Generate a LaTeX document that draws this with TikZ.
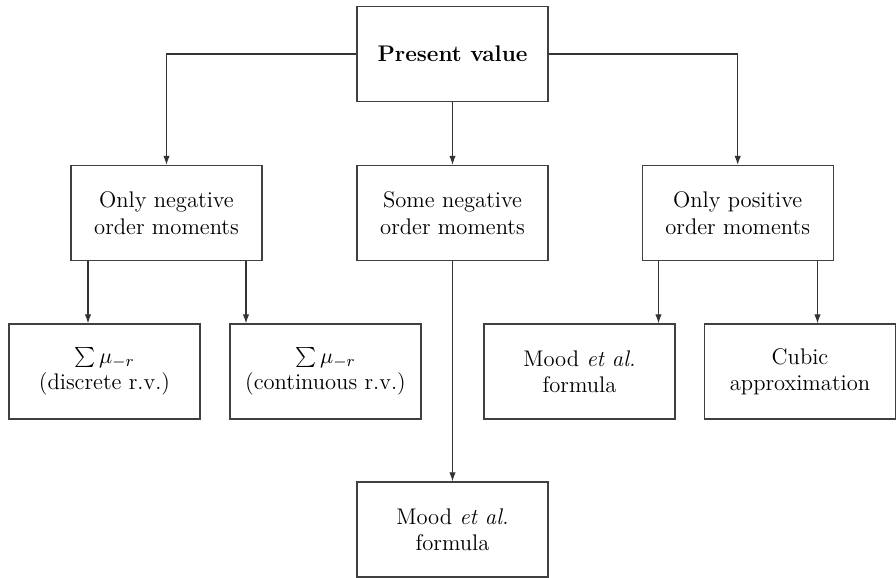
\documentclass[tikz,border=0pt]{standalone}
\usepackage{fontspec}
\usetikzlibrary{arrows.meta}
\begin{document}
\begin{tikzpicture}[x=0.5pt,y=-0.5pt,
  box/.style={draw=black!75,line width=0.65pt,rectangle,minimum width=95.5pt,minimum height=47.5pt,inner sep=0pt,align=center,font=\fontsize{11.3}{13.2}\selectfont},
  arr/.style={draw=black!80,line width=0.55pt,-{Latex[length=4.5pt,width=3.2pt]}}]
\useasboundingbox (0,0) rectangle (896,578);
\node[box] (pv) at (452.5,54) {\textbf{Present value}};
\node[box] (on) at (166.5,213) {Only negative\\order moments};
\node[box] (sn) at (452.5,213) {Some negative\\order moments};
\node[box] (op) at (737.7,213) {Only positive\\order moments};
\node[box] (sd) at (104.5,371.5) {$\sum\mu_{-r}$\\(discrete r.v.)};
\node[box] (sc) at (325.5,371.5) {$\sum\mu_{-r}$\\(continuous r.v.)};
\node[box] (mp) at (579.5,371.5) {Mood \textit{et al.}\\formula};
\node[box] (cu) at (800,371.5) {Cubic\\approximation};
\node[box] (mb) at (452.5,529.5) {Mood \textit{et al.}\\formula};
\coordinate (x1) at (88,0);
\coordinate (x2) at (246,0);
\coordinate (x3) at (658.5,0);
\coordinate (x4) at (817.5,0);
\draw[arr] (pv.west) -| (on.north);
\draw[arr] (pv.east) -| (op.north);
\draw[arr] (pv.south) -- (sn.north);
\draw[arr] (on.south -| x1) -- (sd.north -| x1);
\draw[arr] (on.south -| x2) -- (sc.north -| x2);
\draw[arr] (sn.south) -- (mb.north);
\draw[arr] (op.south -| x3) -- (mp.north -| x3);
\draw[arr] (op.south -| x4) -- (cu.north -| x4);
\end{tikzpicture}
\end{document}
